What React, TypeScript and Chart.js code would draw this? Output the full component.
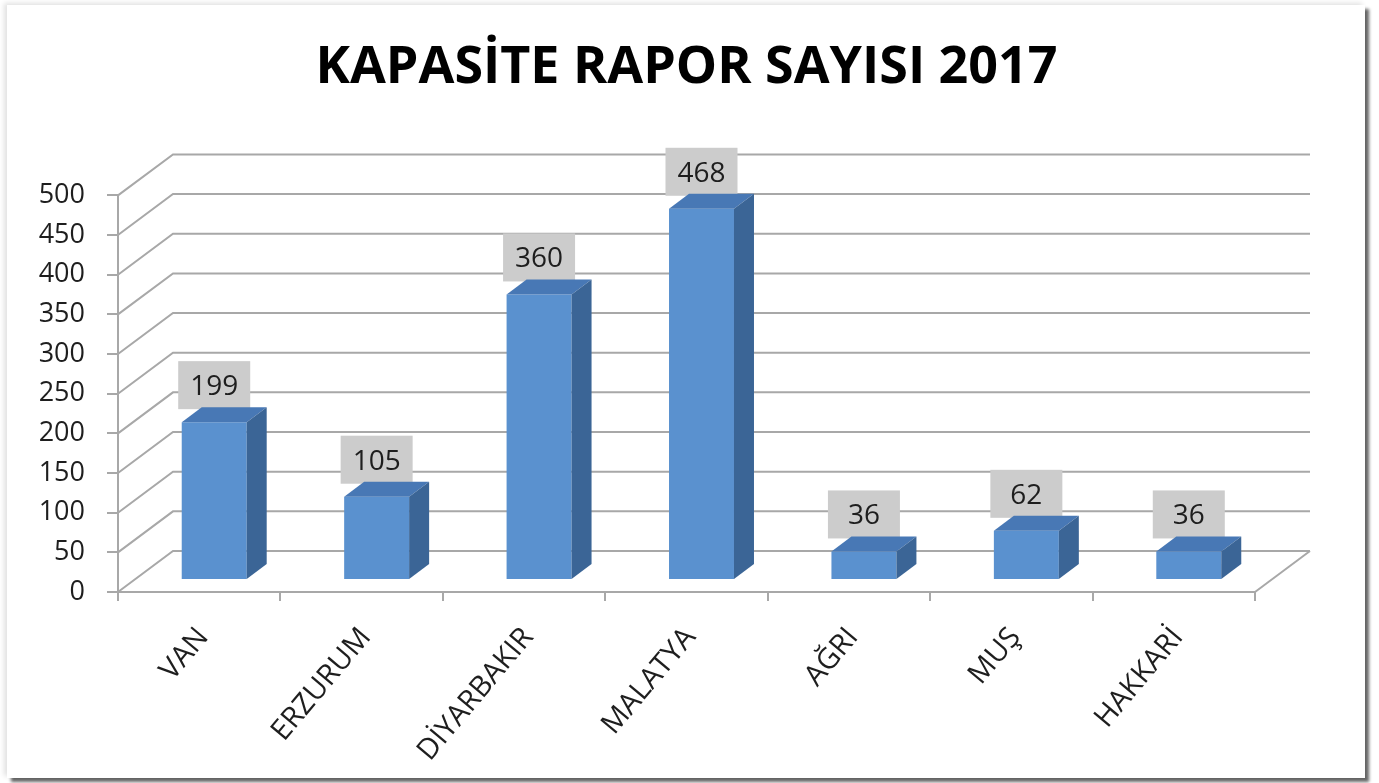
import React, { useEffect, useRef } from 'react';
import { Chart, registerables } from 'chart.js';

Chart.register(...registerables);

const TITLE = 'KAPASİTE RAPOR SAYISI 2017';
const categories = ['VAN', 'ERZURUM', 'DİYARBAKIR', 'MALATYA', 'AĞRI', 'MUŞ', 'HAKKARİ'];
const values = [199, 105, 360, 468, 36, 62, 36];
const yMin = 0;
const yMax = 500;
const yStep = 50;

const FONT = "'Open Sans', sans-serif";
const GRID = '#a8a8a8';
const TEXT = '#1e1e1e';
const FRONT = '#5a91cf';
const TOP = '#4878b5';
const SIDE = '#3b6596';
const LABEL_BG = '#cccccc';
const WALL = { dx: 55, dy: -41 };
const SHIFT = { dx: 15, dy: -12 };
const DEPTH = { dx: 20, dy: -15 };

const threeD = {
  id: 'threeD',
  beforeDatasetsDraw(chart: any) {
    const { ctx, chartArea, scales } = chart;
    const ys = scales.y;
    ctx.save();
    ctx.strokeStyle = GRID;
    ctx.lineWidth = 2;
    for (let v = yMin; v <= yMax; v += yStep) {
      const py = ys.getPixelForValue(v);
      ctx.beginPath();
      ctx.moveTo(chartArea.left, py);
      ctx.lineTo(chartArea.left + WALL.dx, py + WALL.dy);
      ctx.lineTo(chartArea.right + WALL.dx, py + WALL.dy);
      ctx.stroke();
    }
    ctx.beginPath();
    ctx.moveTo(chartArea.right, chartArea.bottom);
    ctx.lineTo(chartArea.right + WALL.dx, chartArea.bottom + WALL.dy);
    ctx.stroke();
    ctx.restore();
  },
  beforeDatasetDraw(chart: any) {
    chart.ctx.save();
    chart.ctx.translate(SHIFT.dx, SHIFT.dy);
  },
  afterDatasetDraw(chart: any) {
    chart.ctx.restore();
  },
  afterDatasetsDraw(chart: any) {
    const ctx = chart.ctx;
    const meta = chart.getDatasetMeta(0);
    const data = chart.data.datasets[0].data;
    meta.data.forEach((bar: any, i: number) => {
      const { x, y, base, width } = bar.getProps(['x', 'y', 'base', 'width'], true);
      const x0 = x - width / 2 + SHIFT.dx;
      const x1 = x + width / 2 + SHIFT.dx;
      const yt = y + SHIFT.dy;
      const yb = base + SHIFT.dy;
      const cx = x + SHIFT.dx;
      ctx.save();
      // label box
      const bw = 72;
      const bh = 48;
      const by = yt - 13 - bh;
      ctx.fillStyle = LABEL_BG;
      ctx.fillRect(cx - bw / 2, by, bw, bh);
      ctx.fillStyle = TEXT;
      ctx.font = `28px ${FONT}`;
      ctx.textAlign = 'center';
      ctx.textBaseline = 'middle';
      ctx.fillText(String(data[i]), cx, by + bh / 2 + 2);
      // top face
      ctx.fillStyle = TOP;
      ctx.beginPath();
      ctx.moveTo(x0, yt);
      ctx.lineTo(x0 + DEPTH.dx, yt + DEPTH.dy);
      ctx.lineTo(x1 + DEPTH.dx, yt + DEPTH.dy);
      ctx.lineTo(x1, yt);
      ctx.closePath();
      ctx.fill();
      // side face
      ctx.fillStyle = SIDE;
      ctx.beginPath();
      ctx.moveTo(x1, yt);
      ctx.lineTo(x1 + DEPTH.dx, yt + DEPTH.dy);
      ctx.lineTo(x1 + DEPTH.dx, yb + DEPTH.dy);
      ctx.lineTo(x1, yb);
      ctx.closePath();
      ctx.fill();
      ctx.restore();
    });
  },
};

export default function App() {
  const ref = useRef<HTMLCanvasElement | null>(null);
  useEffect(() => {
    document.body.style.margin = '0';
    if (!ref.current) return;
    const chart = new Chart(ref.current, {
      type: 'bar',
      data: {
        labels: categories,
        datasets: [
          {
            data: values,
            backgroundColor: FRONT,
            borderWidth: 0,
            barPercentage: 0.4,
            categoryPercentage: 1,
          },
        ],
      },
      options: {
        animation: false,
        responsive: false,
        devicePixelRatio: 1,
        layout: { padding: { left: 0, right: 124, top: 0, bottom: 0 } },
        plugins: {
          legend: { display: false },
          tooltip: { enabled: false },
          title: {
            display: true,
            text: TITLE,
            fullSize: false,
            color: '#000000',
            font: { family: FONT, size: 52, weight: 'bold', lineHeight: 1.2 },
            padding: { top: 37, bottom: 96 },
          },
        },
        scales: {
          x: {
            offset: true,
            grid: {
              offset: true,
              drawOnChartArea: false,
              color: GRID,
              lineWidth: 2,
              tickLength: 9,
            },
            border: { color: GRID, width: 2 },
            ticks: {
              autoSkip: false,
              minRotation: 50,
              maxRotation: 50,
              labelOffset: 4,
              padding: 20,
              color: TEXT,
              font: { family: FONT, size: 29 },
            },
            afterFit: (scale: any) => {
              scale.height = 191;
            },
          },
          y: {
            min: yMin,
            max: yMax,
            grid: {
              drawOnChartArea: false,
              color: GRID,
              lineWidth: 2,
              tickLength: 11,
            },
            border: { color: GRID, width: 2 },
            ticks: {
              stepSize: yStep,
              padding: 22,
              color: TEXT,
              font: { family: FONT, size: 27 },
            },
            afterFit: (scale: any) => {
              scale.width = 118;
            },
          },
        },
      },
      plugins: [threeD],
    } as any);
    return () => chart.destroy();
  }, []);

  return (
    <div style={{ position: 'relative', width: 1379, height: 783, background: '#ffffff', overflow: 'hidden' }}>
      <div
        style={{
          position: 'absolute',
          left: 7,
          top: 5,
          width: 1358,
          height: 773,
          background: '#ffffff',
          boxShadow: '4px 4px 3px rgba(0,0,0,0.6), -3px -2px 5px rgba(0,0,0,0.12)',
        }}
      />
      <canvas ref={ref} width={1379} height={783} style={{ position: 'absolute', left: 0, top: 0 }} />
    </div>
  );
}
